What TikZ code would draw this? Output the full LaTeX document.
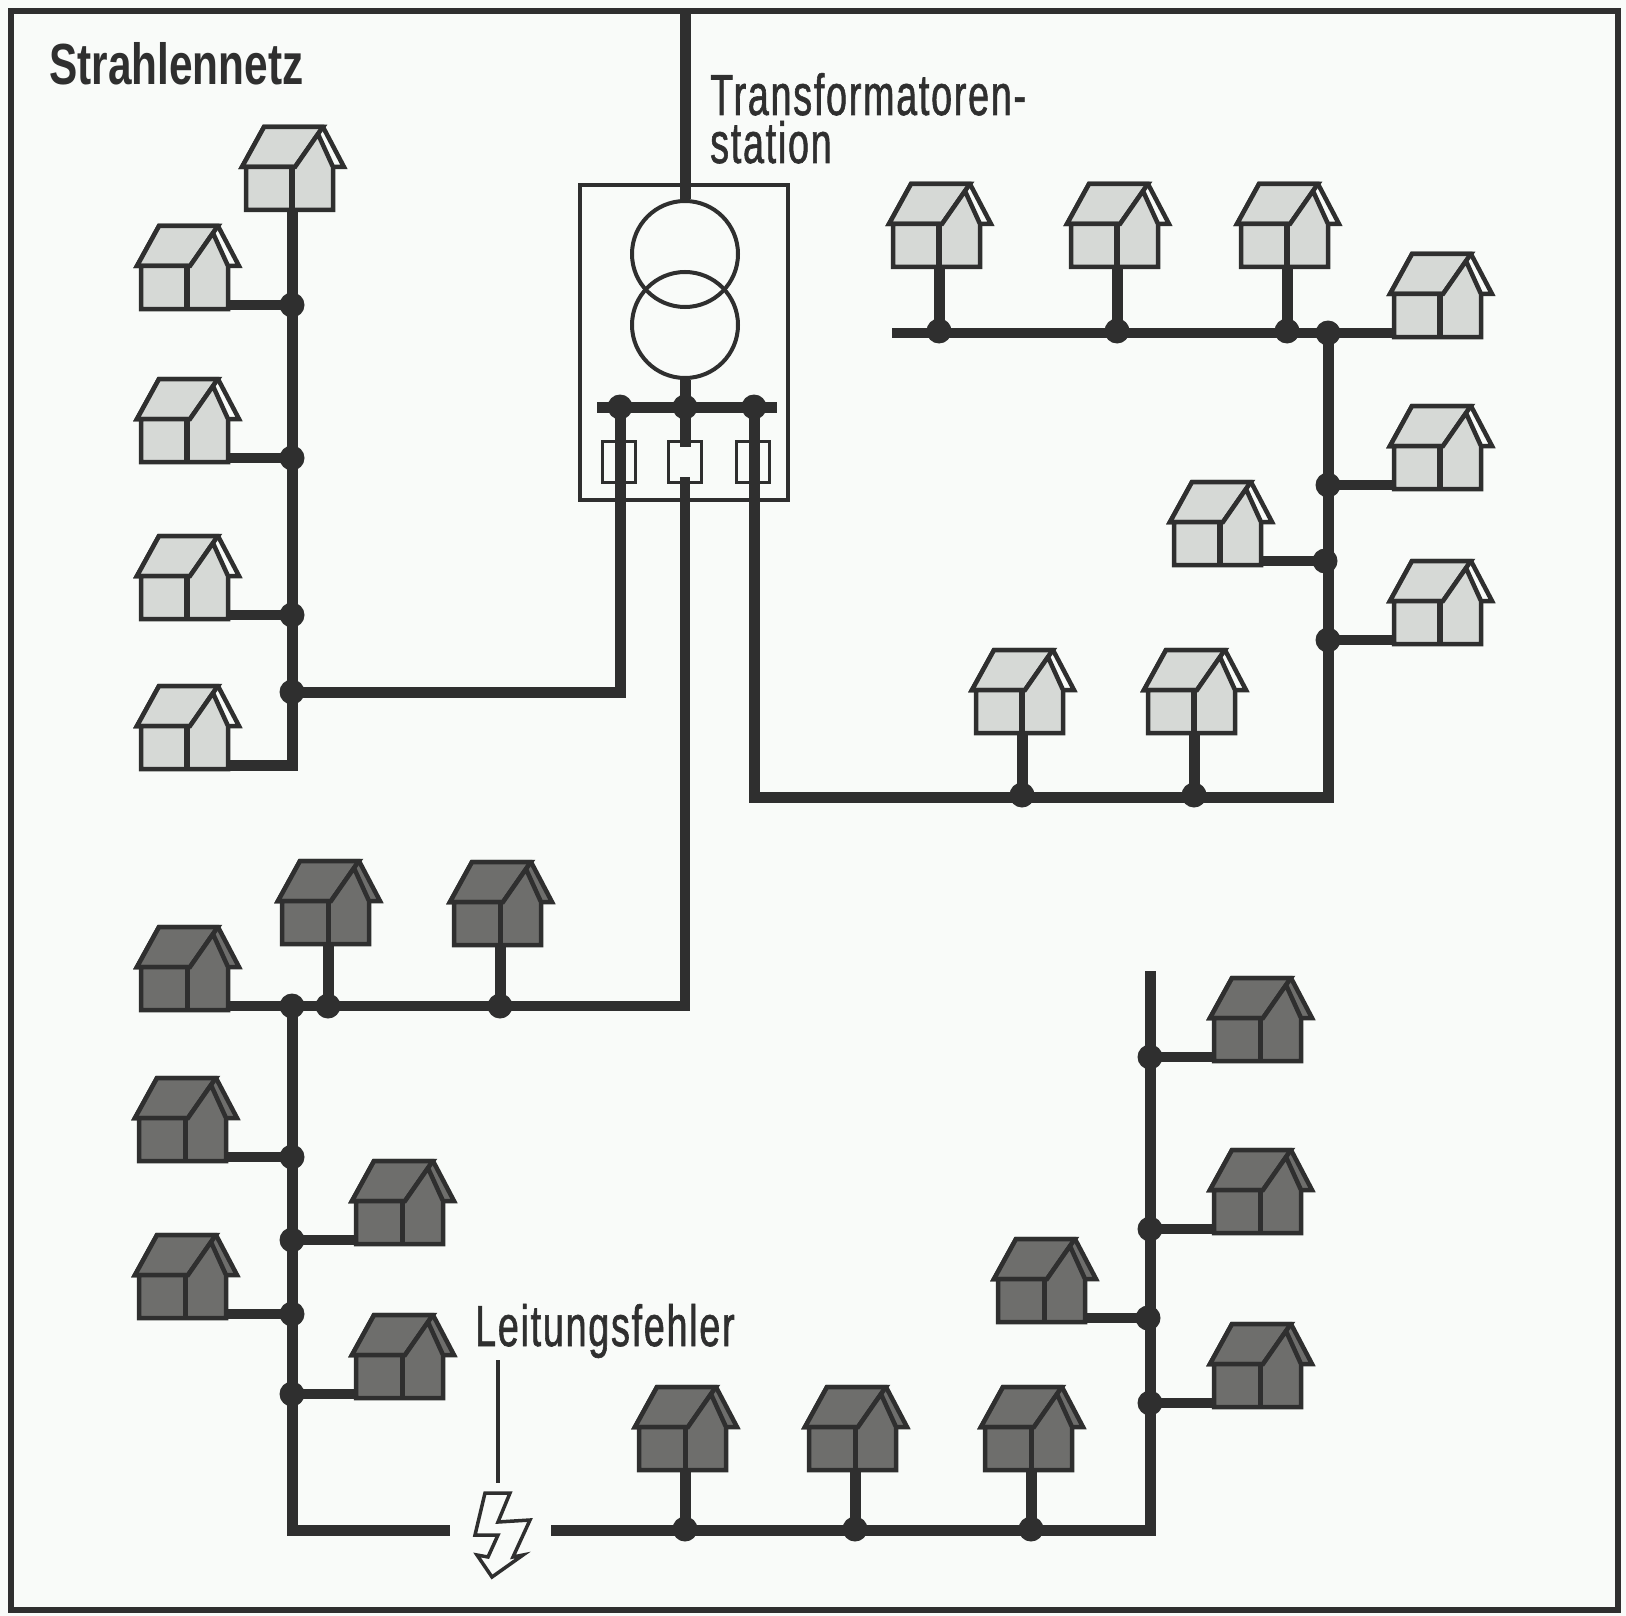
\documentclass[tikz,border=0pt]{standalone}
\usepackage{fontspec}
\usepackage{tikz}
\newfontfamily\labelfont[FakeStretch=0.65,LetterSpace=3,FakeBold=1]{Liberation Sans}
\newfontfamily\titlefont[FakeStretch=0.73]{Liberation Sans Bold}
\definecolor{paper}{HTML}{F9FBF9}
\definecolor{ink}{HTML}{2F2F2F}
\definecolor{roomlight}{HTML}{D6D9D6}
\definecolor{roomdark}{HTML}{6E6E6C}
\newcommand{\drawhouse}[3]{
  \filldraw[houseline, fill=#2] (31,-83) -- (52,-43) -- (-50,-43) -- (-28,-83) -- cycle;
  \filldraw[houseline, fill=#1] (-28,-83) -- (31,-83) -- (26,-76) -- (3,-43) -- (-50,-43) -- cycle;
  \filldraw[houseline, fill=#1] (-46,-43) -- (3,-43) -- (26,-76) -- (41,-43) -- (41,0) -- (-46,0) -- cycle;
  \draw[houseline, line width=#3] (0,-43) -- (0,0);
  \coordinate (-b) at (0,0);
  \coordinate (-r) at (41,-4);
  \coordinate (-l) at (-46,-4);
}
\tikzset{
  houseline/.style={draw=ink, line width=4.5pt, line join=miter},
  lighthouse/.pic={\drawhouse{roomlight}{paper}{6pt}},
  darkhouse/.pic={\drawhouse{roomdark}{roomdark}{5pt}},
  cable/.style={draw=ink, line width=11pt, line join=miter},
  thincable/.style={draw=ink, line width=10pt, line join=miter},
  junction/.style={circle, fill=ink, inner sep=0pt, minimum size=25pt},
  thinline/.style={draw=ink, line width=3.5pt},
  fuse/.style={draw=ink, line width=3pt, fill=none, inner sep=0pt, minimum width=33pt, minimum height=41pt},
  coil/.style={circle, draw=ink, line width=4pt, inner sep=0pt, minimum size=106pt},
  caption/.style={inner sep=0pt, text=ink, font=\labelfont\fontsize{58}{48}\selectfont}
}
\begin{document}
\begin{tikzpicture}[x=1pt, y=-1pt]
\useasboundingbox (0,0) rectangle (1626,1616);
\fill[paper] (0,0) rectangle (1626,1616);
\draw[draw=ink, line width=6pt] (11,11.5) rectangle (1618,1609.5);

% labels
\node[caption, anchor=base west, font=\titlefont\fontsize{58}{50}\selectfont] (title) at (49,85) {Strahlennetz};
\node[caption, anchor=base west, align=left] (trafolabel) at (710,163) {Transformatoren-\\station};
\node[caption, anchor=base west] (faultlabel) at (475,1346) {Leitungsfehler};

% station
\node[draw=ink, line width=3.5pt, minimum width=208pt, minimum height=315pt, inner sep=0pt] (station) at (684,342.5) {};
\coordinate (feed) at (685,10);
\node[coil] (coilup) at (685,254) {};
\node[coil] (coildown) at (685,325) {};
\node[junction] (busl) at (620,407) {};
\node[junction] (busm) at (685,407) {};
\node[junction] (busr) at (754,407) {};
\coordinate (busstart) at (597,407);
\coordinate (busend) at (777,407);
\node[fuse] (fusel) at (619,462) {};
\node[fuse] (fusem) at (685,462) {};
\node[fuse] (fuser) at (753,462) {};
\coordinate (fusemtop) at (685,447);
\coordinate (fusembot) at (685,477);
\draw[cable] (feed) -- (coilup);
\draw[cable] (coildown) -- (busm.center);
\draw[cable] (busstart) -- (busend);
\draw[cable] (busm.center) -- (fusemtop);

% first line, top left
\pic (a1) at (292,210) {lighthouse};
\pic (a2) at (187,309) {lighthouse};
\pic (a3) at (187,462) {lighthouse};
\pic (a4) at (187,619) {lighthouse};
\pic (a5) at (187,769) {lighthouse};
\node[junction] (ja2) at (292,305) {};
\node[junction] (ja3) at (292,458) {};
\node[junction] (ja4) at (292,615) {};
\node[junction] (jfeedl) at (292,692) {};
\coordinate (ca) at (292,765);
\coordinate (cl) at (620,692);
\draw[cable] (a1-b) -- (ca);
\draw[cable] (a5-r) -- ([xshift=5.5pt]ca);
\draw[thincable] (a2-r) -- (ja2.center);
\draw[thincable] (a3-r) -- (ja3.center);
\draw[thincable] (a4-r) -- (ja4.center);
\draw[cable] (busl.center) -- (cl) -- (jfeedl.center);

% second line, top right
\pic (b1) at (939,267) {lighthouse};
\pic (b2) at (1117,267) {lighthouse};
\pic (b3) at (1287,267) {lighthouse};
\pic (b4) at (1440,337) {lighthouse};
\pic (b5) at (1440,489) {lighthouse};
\pic (b6) at (1220,565) {lighthouse};
\pic (b7) at (1440,644) {lighthouse};
\pic (b8) at (1022,733) {lighthouse};
\pic (b9) at (1194,733) {lighthouse};
\coordinate (bstart) at (892,333);
\node[junction] (jb1) at (939,331) {};
\node[junction] (jb2) at (1117,331) {};
\node[junction] (jb3) at (1287,331) {};
\node[junction] (jb4) at (1328,333) {};
\node[junction] (jb5) at (1328,485) {};
\node[junction] (jb6) at (1325,561) {};
\node[junction] (jb7) at (1328,640) {};
\node[junction] (jb8) at (1022,795) {};
\node[junction] (jb9) at (1194,795) {};
\coordinate (cr1) at (1328,797);
\coordinate (cr2) at (754,797);
\draw[cable] (b1-b) -- (jb1.center);
\draw[cable] (b2-b) -- (jb2.center);
\draw[cable] (b3-b) -- (jb3.center);
\draw[cable] (b8-b) -- (jb8.center);
\draw[cable] (b9-b) -- (jb9.center);
\draw[thincable] (bstart) -- (b4-l);
\draw[thincable] (jb5.center) -- (b5-l);
\draw[thincable] (b6-r) -- (jb6.center);
\draw[thincable] (jb7.center) -- (b7-l);
\draw[cable] (jb4.center) -- (cr1) -- (cr2) -- (busr.center);

% third line, bottom left
\pic (c1) at (187,1010) {darkhouse};
\pic (c2) at (328,944) {darkhouse};
\pic (c3) at (500,945) {darkhouse};
\pic (c4) at (185,1161) {darkhouse};
\pic (c5) at (402,1244) {darkhouse};
\pic (c6) at (185,1318) {darkhouse};
\pic (c7) at (402,1398) {darkhouse};
\node[junction] (jc1) at (292,1006) {};
\node[junction] (jc2) at (328,1006) {};
\node[junction] (jc3) at (500,1006) {};
\node[junction] (jc4) at (292,1157) {};
\node[junction] (jc5) at (292,1240) {};
\node[junction] (jc6) at (292,1314) {};
\node[junction] (jc7) at (292,1394) {};
\coordinate (cm) at (685,1006);
\coordinate (cd) at (292,1530);
\coordinate (gapl) at (450,1530);
\draw[thincable] (c1-r) -- (cm) -- (fusembot);
\draw[cable] (c2-b) -- (jc2.center);
\draw[cable] (c3-b) -- (jc3.center);
\draw[thincable] (c4-r) -- (jc4.center);
\draw[thincable] (jc5.center) -- (c5-l);
\draw[thincable] (c6-r) -- (jc6.center);
\draw[thincable] (jc7.center) -- (c7-l);
\draw[cable] (jc1.center) -- (cd) -- (gapl);

% fourth line, bottom right
\pic (d1) at (685,1470) {darkhouse};
\pic (d2) at (855,1470) {darkhouse};
\pic (d3) at (1031,1470) {darkhouse};
\pic (d4) at (1260,1061) {darkhouse};
\pic (d5) at (1260,1233) {darkhouse};
\pic (d6) at (1044,1322) {darkhouse};
\pic (d7) at (1260,1407) {darkhouse};
\coordinate (gapr) at (551,1530);
\coordinate (ce) at (1150,1530);
\coordinate (dtop) at (1150,971);
\node[junction] (jd1) at (685,1529) {};
\node[junction] (jd2) at (855,1529) {};
\node[junction] (jd3) at (1031,1529) {};
\node[junction] (jd4) at (1150,1057) {};
\node[junction] (jd5) at (1150,1229) {};
\node[junction] (jd6) at (1148,1318) {};
\node[junction] (jd7) at (1150,1403) {};
\draw[cable] (d1-b) -- (jd1.center);
\draw[cable] (d2-b) -- (jd2.center);
\draw[cable] (d3-b) -- (jd3.center);
\draw[thincable] (jd4.center) -- (d4-l);
\draw[thincable] (jd5.center) -- (d5-l);
\draw[thincable] (d6-r) -- (jd6.center);
\draw[thincable] (jd7.center) -- (d7-l);
\draw[cable] (gapr) -- (ce) -- (dtop);

% fault
\coordinate (faulttop) at (498,1360);
\coordinate (faultbolt) at (498,1483);
\draw[thinline] (faulttop) -- (faultbolt);
\draw[thinline, line join=miter] (485,1493) -- (510,1493) -- (498,1522) -- (530,1520) -- (513,1557) -- (523,1555) -- (492,1577) -- (477,1555) -- (488,1557) -- (498,1535) -- (475,1535) -- cycle;
\end{tikzpicture}
\end{document}
